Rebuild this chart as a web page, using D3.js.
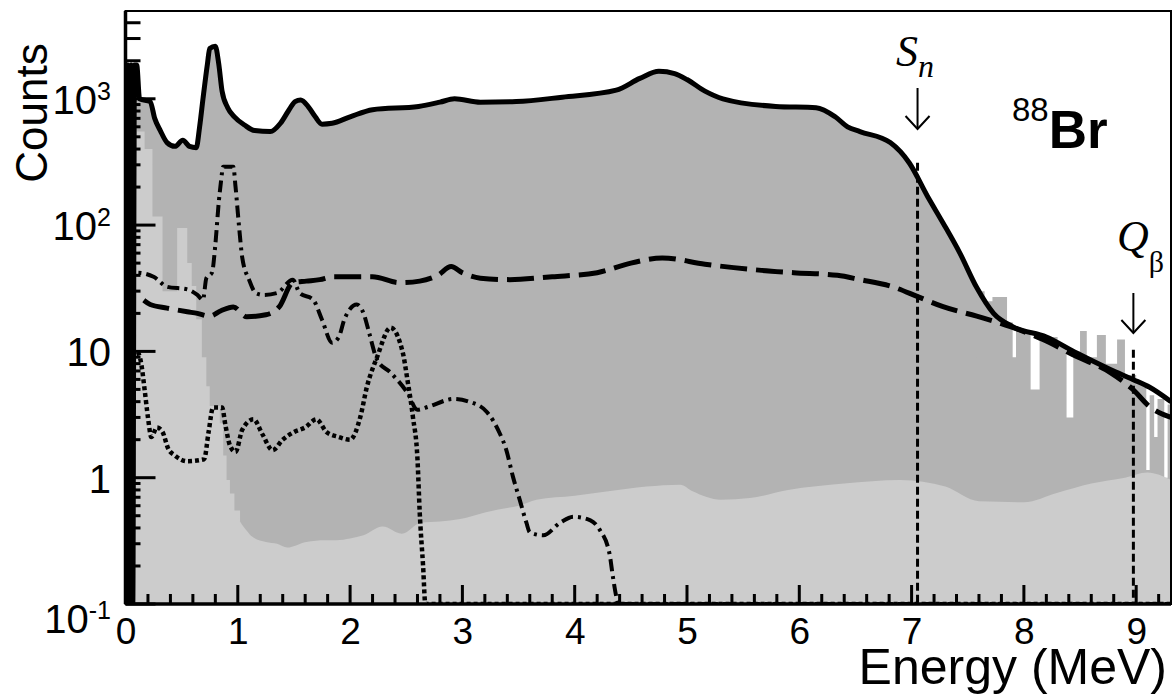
<!DOCTYPE html>
<html><head><meta charset="utf-8">
<script src="https://cdn.jsdelivr.net/npm/d3@7"></script>
<style>body{margin:0;background:#fff}svg{display:block}</style>
</head><body>
<svg id="chart" width="1172" height="695"></svg>
<script>
// ---------- data (energy in MeV, counts) ----------
const xTickValues = [0,1,2,3,4,5,6,7,8,9];
const yTickValues = [0.1, 1, 10, 100, 1000];
const yTickBase   = ["10","1","10","10","10"];
const yTickExp    = ["-1","","","2","3"];

// solid line: total fit (first bins are a noisy spike)
const fitTotal = [
[0.0,0.1],[0.02,1850],[0.035,0.1],[0.05,1850],[0.065,0.1],[0.08,1850],[0.10,1850],[0.125,1000],[0.22,950],
[0.26,700],[0.31,560],[0.37,450],[0.44,420],
[0.51,470],[0.57,420],[0.63,410],[0.66,600],[0.69,1000],[0.73,1900],[0.75,2500],[0.80,2600],[0.83,1900],
[0.86,1150],[0.91,850],[0.97,720],[1.06,620],[1.15,560],[1.29,550],[1.38,640],[1.45,800],[1.51,950],
[1.56,980],[1.63,860],[1.69,720],[1.75,630],[1.84,640],[2.0,720],[2.2,820],[2.61,870],[2.8,940],
[2.93,1000],[3.16,940],[3.48,950],[3.89,1030],[4.37,1170],[4.58,1450],[4.75,1650],[4.89,1580],[5.0,1420],
[5.16,1150],[5.32,1000],[5.79,870],[6.15,850],[6.32,720],[6.43,600],[6.54,550],[6.81,450],[6.98,310],
[7.14,170],[7.28,104],[7.43,60],[7.58,32],[7.73,20],[7.9,15.7],[8.2,13],[8.47,9.7],[8.77,7.2],
[8.97,6],[9.12,5.2],[9.31,4]
];
// dark gray: measured spectrum at the high-energy tail (below it follows the fit)
const measuredTail = [
[7.58,30],[7.65,25],[7.72,27],[7.85,17],[7.9,9],[7.93,15],[8.0,14],[8.06,5],[8.14,13],[8.3,11],
[8.38,3],[8.44,10],[8.5,14.5],[8.56,9],[8.65,13.5],[8.73,8],[8.83,12.4],[8.9,6.5],[9.0,5.5],[9.09,1.15],
[9.12,4.5],[9.16,2.1],[9.19,4.2],[9.25,1.0],[9.28,3.8],[9.31,3.8]
];
// light gray: background/contaminant histogram
const background = [
[0.0,300],[0.1,550],[0.17,400],[0.24,117],[0.33,30],[0.46,95],[0.55,50],[0.59,33],[0.63,18],[0.68,9],
[0.72,5.3],[0.75,3.7],[0.84,2.7],[0.87,1.5],[0.9,0.96],[0.93,0.75],[0.97,0.55],[1.02,0.45],[1.08,0.38],
[1.13,0.34],[1.25,0.31],[1.35,0.3],[1.44,0.28],[1.61,0.31],[1.78,0.32],[1.88,0.32],[2.0,0.33],[2.12,0.35],
[2.29,0.41],[2.46,0.36],[2.63,0.44],[2.8,0.45],[2.98,0.47],[3.2,0.53],[3.32,0.56],[3.5,0.6],[3.66,0.67],
[4.0,0.72],[4.3,0.78],[4.64,0.85],[4.94,0.88],[5.05,0.78],[5.3,0.67],[5.56,0.69],[5.9,0.8],[6.4,0.9],
[6.9,0.96],[7.3,0.85],[7.6,0.65],[8.0,0.64],[8.3,0.76],[8.6,0.9],[8.9,1.0],[9.1,1.1],[9.31,0.96]
];
// dashed component
const compDashed = [
[0,0.1],[0.02,27],[0.1,27],[0.22,23.5],[0.37,22],[0.55,20.6],[0.64,20],[0.75,19],[0.85,21],[0.96,22.5],
[1.08,18.8],[1.25,19.5],[1.37,22.6],[1.49,35],[1.61,36],[1.73,37],[1.85,39],[2.0,39],[2.2,39],[2.44,35],
[2.62,36],[2.78,40],[2.9,47],[3.0,42],[3.16,38],[3.42,37],[3.8,39],[4.2,42],[4.5,50],[4.78,55],[5.16,49],
[5.64,44],[5.95,42],[6.34,40],[6.54,37],[6.83,32.5],[7.06,27],[7.28,22.6],[7.58,19],[7.88,15.7],[8.17,12.4],
[8.47,9.1],[8.77,6.8],[8.97,5],[9.12,3.65],[9.31,3.0]
];
// dash-dot component
const compDashDot = [
[0,0.1],[0.02,42],[0.1,42],[0.25,39],[0.37,32.5],[0.55,31],[0.64,28],[0.69,25.6],[0.72,38],[0.77,42],
[0.8,70],[0.83,150],[0.85,220],[0.87,290],[0.96,290],[0.98,200],[1.01,100],[1.04,55],[1.1,37],[1.16,29],
[1.23,28],[1.35,29],[1.49,37],[1.55,29],[1.67,25.7],[1.75,17.8],[1.84,11.7],[1.9,13],[1.95,18],[2.06,23.5],
[2.12,20],[2.17,14],[2.24,8.6],[2.36,6.8],[2.51,4.7],[2.6,3.45],[2.7,3.65],[2.92,4.2],[3.07,3.97],[3.22,3.3],
[3.33,2.27],[3.39,1.67],[3.45,1.02],[3.51,0.67],[3.57,0.44],[3.6,0.37],[3.72,0.35],[3.87,0.44],[3.99,0.49],
[4.14,0.46],[4.22,0.39],[4.31,0.25],[4.34,0.165],[4.37,0.115],[4.39,0.1],[9.31,0.1]
];
// dotted component
const compDotted = [
[0,0.1],[0.02,9],[0.1,10],[0.14,8],[0.17,5],[0.2,3],[0.23,2.1],[0.28,2.5],[0.33,2.3],[0.38,1.7],[0.44,1.5],
[0.55,1.35],[0.7,1.4],[0.74,2.3],[0.78,3.6],[0.86,3.6],[0.89,2.6],[0.93,1.8],[0.98,1.6],[1.04,2.4],[1.14,2.9],
[1.22,2.2],[1.31,1.65],[1.4,2.0],[1.5,2.3],[1.6,2.5],[1.7,2.9],[1.79,2.3],[1.9,2.1],[2.0,2.0],[2.09,3.0],
[2.15,5.25],[2.24,9],[2.36,15.4],[2.47,9.7],[2.51,6],[2.56,3],[2.6,1.4],[2.62,0.53],[2.65,0.2],[2.67,0.1],[9.31,0.1]
];
// thresholds: energy and top of the marker line in counts
const thresholdE   = [7.053, 8.975];
const thresholdTop = [312, 10.3];

// ---------- drawing ----------
const L = 125.5, R = 1171, T = 11, B = 604;
const svg = d3.select("#chart");
const x = d3.scaleLinear().domain([0, 9.31]).range([L, R]);
const y = d3.scaleLog().domain([0.1, 4955]).range([B, T]);

svg.append("defs").append("clipPath").attr("id","plot")
  .append("rect").attr("x",L).attr("y",T).attr("width",R-L).attr("height",B-T);
const g = svg.append("g").attr("clip-path","url(#plot)");

const DARK = "#b3b3b3", LIGHT = "#cccccc";
const areaMono = d3.area().x(d=>x(d[0])).y0(B).y1(d=>y(d[1])).curve(d3.curveMonotoneX);
const areaStep = d3.area().x(d=>x(d[0])).y0(B).y1(d=>y(d[1])).curve(d3.curveStepAfter);
const lineMono = d3.line().x(d=>x(d[0])).y(d=>y(d[1])).curve(d3.curveMonotoneX);

// dark gray measured
g.append("path").attr("d", areaMono(fitTotal.filter(d=>d[0]<=7.73))).attr("fill",DARK);
g.append("path").attr("d", areaStep(measuredTail)).attr("fill",DARK);
// light gray background
g.append("path").attr("d", areaStep(background.filter(d=>d[0]<=1.02))).attr("fill",LIGHT);
g.append("path").attr("d", areaMono(background.filter(d=>d[0]>=0.97))).attr("fill",LIGHT);

// threshold lines
thresholdE.forEach((e,i)=>{
  g.append("line").attr("x1",x(e)).attr("x2",x(e)).attr("y1",y(thresholdTop[i])).attr("y2",B)
   .attr("stroke","#000").attr("stroke-width",3).attr("stroke-dasharray","8,4");
});

// component curves
g.append("path").attr("d", lineMono(compDotted)).attr("fill","none").attr("stroke","#000")
  .attr("stroke-width",4.5).attr("stroke-dasharray","4,3");
g.append("path").attr("d", lineMono(compDashDot)).attr("fill","none").attr("stroke","#000")
  .attr("stroke-width",4).attr("stroke-dasharray","12,5,3,5");
g.append("path").attr("d", lineMono(compDashed)).attr("fill","none").attr("stroke","#000")
  .attr("stroke-width",5).attr("stroke-dasharray","27,9");
g.append("path").attr("d", lineMono(fitTotal)).attr("fill","none").attr("stroke","#000")
  .attr("stroke-width",5).attr("stroke-linejoin","round");

// ticks (inward, ROOT style), placed by the scales
const minorX = d3.range(0, 9.31, 0.2).filter(v => Math.abs(v - Math.round(v)) > 1e-6);
const minorY = [];
yTickValues.forEach(d => { for (let k=2;k<=9;k++){ const v=d*k; if (v<4955) minorY.push(v);} });
const tk = svg.append("g").attr("class","ticks");
const TW = 3;
tk.selectAll("rect.xmaj").data(xTickValues).enter().append("rect").attr("class","xmaj")
  .attr("x",d=>x(d)-TW/2).attr("y",B-19).attr("width",TW).attr("height",19).style("fill","#000");
tk.selectAll("rect.xmin").data(minorX).enter().append("rect").attr("class","xmin")
  .attr("x",d=>x(d)-TW/2).attr("y",B-10).attr("width",TW).attr("height",10).style("fill","#000");
tk.selectAll("rect.ymaj").data(yTickValues).enter().append("rect").attr("class","ymaj")
  .attr("x",L).attr("y",d=>y(d)-TW/2).attr("width",30).attr("height",TW).style("fill","#000");
tk.selectAll("rect.ymin").data(minorY).enter().append("rect").attr("class","ymin")
  .attr("x",L).attr("y",d=>y(d)-TW/2).attr("width",15).attr("height",TW).style("fill","#000");

// x tick labels through a d3 axis
const xAxis = svg.append("g").attr("transform",`translate(0,${B})`)
  .call(d3.axisBottom(x).tickValues(xTickValues).tickSize(0).tickPadding(14).tickFormat(d3.format("d")));
xAxis.select(".domain").remove();
xAxis.selectAll("line").remove();
xAxis.selectAll("text").attr("font-family","Liberation Sans, Arial, sans-serif")
  .attr("font-size",37).attr("fill","#000");

// y tick labels with superscripts
yTickValues.forEach((v,i)=>{
  const base = (i===0) ? B+29 : y(v)+15;
  const t = svg.append("text").attr("x",111).attr("y",base).attr("text-anchor","end")
    .attr("font-family","Liberation Sans, Arial, sans-serif").attr("font-size",40).attr("fill","#000");
  t.append("tspan").text(yTickBase[i]);
  if (yTickExp[i]) t.append("tspan").attr("font-size",25).attr("dy",-14).text(yTickExp[i]);
});

// frame
svg.append("rect").attr("x",L).attr("y",T).attr("width",R-L).attr("height",B-T)
  .attr("fill","none").attr("stroke","#000").attr("stroke-width",2);
svg.append("line").attr("x1",L).attr("x2",R).attr("y1",B).attr("y2",B).attr("stroke","#000").attr("stroke-width",3.5);
svg.append("line").attr("x1",L).attr("x2",L).attr("y1",T).attr("y2",B).attr("stroke","#000").attr("stroke-width",3.5);

// axis titles
svg.append("text").attr("transform","translate(47,113) rotate(-90)").attr("text-anchor","middle")
  .attr("font-family","Liberation Sans, Arial, sans-serif").attr("font-size",44).text("Counts");
svg.append("text").attr("x",1167).attr("y",684).attr("text-anchor","end")
  .attr("font-family","Liberation Sans, Arial, sans-serif").attr("font-size",50).text("Energy (MeV)");

// annotations
function arrow(xc, y1, y2){
  svg.append("line").attr("x1",xc).attr("x2",xc).attr("y1",y1).attr("y2",y2).attr("stroke","#000").attr("stroke-width",2);
  svg.append("path").attr("d",`M${xc-12},${y2-13}L${xc},${y2}L${xc+12},${y2-13}`)
    .attr("fill","none").attr("stroke","#000").attr("stroke-width",2);
}
arrow(x(thresholdE[0]), 88, 129);
arrow(x(thresholdE[1]), 293, 333);

const sn = svg.append("text").attr("x",896).attr("y",66)
  .attr("font-family","Liberation Serif, Times New Roman, serif").attr("font-style","italic").attr("font-size",44);
sn.append("tspan").text("S");
sn.append("tspan").attr("font-size",32).attr("dy",11).text("n");

const qb = svg.append("text").attr("x",1117).attr("y",251)
  .attr("font-family","Liberation Serif, Times New Roman, serif").attr("font-size",44);
qb.append("tspan").attr("font-style","italic").text("Q");
qb.append("tspan").attr("font-size",30).attr("dy",21).text("β");

const br = svg.append("text").attr("x",1012).attr("y",148).attr("font-family","Liberation Sans, Arial, sans-serif");
br.append("tspan").attr("font-size",33).attr("dy",-27).text("88");
br.append("tspan").attr("font-size",53).attr("font-weight","bold").attr("dy",27).text("Br");
</script>
</body></html>
